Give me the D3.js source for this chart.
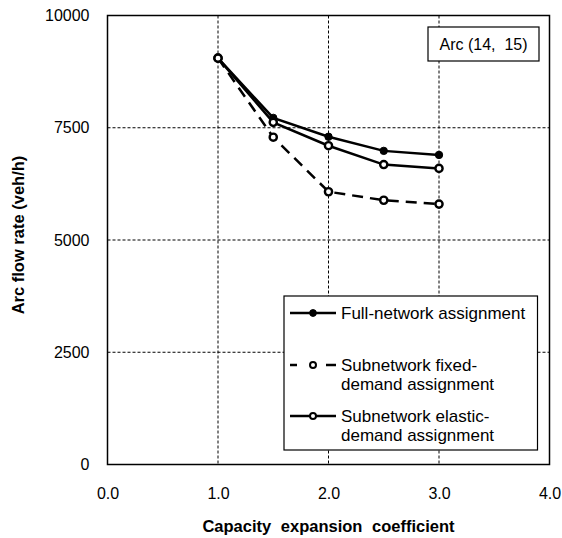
<!DOCTYPE html>
<html>
<head>
<meta charset="utf-8">
<script src="https://cdn.jsdelivr.net/npm/d3@7"></script>
<style>
  body { margin: 0; background: #fff; }
  text { font-family: "Liberation Sans", Arial, sans-serif; fill: #000; }
</style>
</head>
<body>
<div id="chart"></div>
<script>
// capacity expansion coefficients
var coef = [1.0, 1.5, 2.0, 2.5, 3.0];

// arc flow rate (veh/h)
var fullNetwork = [9050, 7720, 7300, 6985, 6895];
var subFixed    = [9050, 7290, 6075, 5885, 5800];
var subElastic  = [9050, 7620, 7100, 6680, 6595];

var xTicks = [0, 1, 2, 3, 4];
var yTicks = [0, 2500, 5000, 7500, 10000];
var xGrid = [1, 2, 3];
var yGrid = [2500, 5000, 7500];

var series = [
  { name: ["Full-network assignment"], vals: fullNetwork, dash: null, filled: true },
  { name: ["Subnetwork fixed-", "demand assignment"], vals: subFixed, dash: "11,7", filled: false },
  { name: ["Subnetwork elastic-", "demand assignment"], vals: subElastic, dash: null, filled: false }
];

var W = 562, H = 538;
var margin = { top: 15.5, left: 107.5 };
var width = 442, height = 449;

var svg = d3.select("#chart").append("svg")
  .attr("width", W).attr("height", H);

var g = svg.append("g")
  .attr("transform", "translate(" + margin.left + "," + margin.top + ")");

var x = d3.scaleLinear().domain([0, 4]).range([0, width]);
var y = d3.scaleLinear().domain([0, 10000]).range([height, 0]);

// grid
g.selectAll(".vgrid").data(xGrid).enter().append("line")
  .attr("x1", d => x(d)).attr("x2", d => x(d))
  .attr("y1", 0).attr("y2", height)
  .attr("stroke", "#000").attr("stroke-width", 1).attr("stroke-dasharray", "3,2");
g.selectAll(".hgrid").data(yGrid).enter().append("line")
  .attr("x1", 0).attr("x2", width)
  .attr("y1", d => y(d)).attr("y2", d => y(d))
  .attr("stroke", "#000").attr("stroke-width", 1).attr("stroke-dasharray", "3,2");

// axes (labels only, frame drawn below)
var xAxis = g.append("g")
  .attr("transform", "translate(0," + height + ")")
  .call(d3.axisBottom(x).tickValues(xTicks).tickSize(0).tickPadding(23).tickFormat(d3.format(".1f")));
var yAxis = g.append("g")
  .call(d3.axisLeft(y).tickValues(yTicks).tickSize(0).tickPadding(18).tickFormat(d3.format("d")));
[xAxis, yAxis].forEach(function(a) {
  a.select(".domain").remove();
  a.selectAll("text").style("font-size", "16px").style("font-family", "Liberation Sans, Arial, sans-serif");
});

// frame
g.append("rect")
  .attr("width", width).attr("height", height)
  .attr("fill", "none").attr("stroke", "#000").attr("stroke-width", 1.5);

// lines
var line = d3.line().x(d => x(d[0])).y(d => y(d[1]));

series.forEach(function(s) {
  var pts = coef.map((c, i) => [c, s.vals[i]]);
  g.append("path")
    .datum(pts)
    .attr("fill", "none")
    .attr("stroke", "#000")
    .attr("stroke-width", 2.5)
    .attr("stroke-dasharray", s.dash)
    .attr("d", line);
  g.selectAll(null).data(pts).enter().append("circle")
    .attr("cx", d => x(d[0])).attr("cy", d => y(d[1]))
    .attr("r", s.filled ? 3.7 : 3.6)
    .attr("fill", s.filled ? "#000" : "#fff")
    .attr("stroke", "#000")
    .attr("stroke-width", s.filled ? 1 : 2.4);
});

// Arc label box
svg.append("rect")
  .attr("x", 428).attr("y", 27).attr("width", 111).attr("height", 34)
  .attr("fill", "#fff").attr("stroke", "#000").attr("stroke-width", 1.2);
svg.append("text")
  .attr("x", 483.5).attr("y", 50)
  .attr("text-anchor", "middle")
  .style("font-size", "16px")
  .style("white-space", "pre")
  .text("Arc (14,  15)");

// legend
var lg = svg.append("g");
lg.append("rect")
  .attr("x", 284).attr("y", 296).attr("width", 253.5).attr("height", 154)
  .attr("fill", "#fff").attr("stroke", "#000").attr("stroke-width", 1.2);

var rowY = [313, 365, 416];
series.forEach(function(s, i) {
  var ry = rowY[i];
  if (s.dash) {
    lg.append("line").attr("x1", 290).attr("x2", 297).attr("y1", ry).attr("y2", ry)
      .attr("stroke", "#000").attr("stroke-width", 2.5);
    lg.append("line").attr("x1", 326).attr("x2", 336).attr("y1", ry).attr("y2", ry)
      .attr("stroke", "#000").attr("stroke-width", 2.5);
  } else {
    lg.append("line").attr("x1", 290).attr("x2", 336).attr("y1", ry).attr("y2", ry)
      .attr("stroke", "#000").attr("stroke-width", 2.5);
  }
  lg.append("circle")
    .attr("cx", 313).attr("cy", ry)
    .attr("r", s.filled ? 3.4 : 3)
    .attr("fill", s.filled ? "#000" : "#fff")
    .attr("stroke", "#000")
    .attr("stroke-width", s.filled ? 1 : 2);
  s.name.forEach(function(t, j) {
    lg.append("text")
      .attr("x", 341).attr("y", ry + 6 + j * 19)
      .style("font-size", "17px")
      .text(t);
  });
});

// axis titles
svg.append("text")
  .attr("x", margin.left + width / 2).attr("y", 532)
  .attr("text-anchor", "middle")
  .style("font-size", "16.5px").style("font-weight", "bold")
  .style("word-spacing", "5px")
  .text("Capacity expansion coefficient");
svg.append("text")
  .attr("transform", "translate(24," + (margin.top + height / 2 - 5) + ") rotate(-90)")
  .attr("text-anchor", "middle")
  .style("font-size", "16.5px").style("font-weight", "bold")
  .text("Arc flow rate (veh/h)");
</script>
</body>
</html>
